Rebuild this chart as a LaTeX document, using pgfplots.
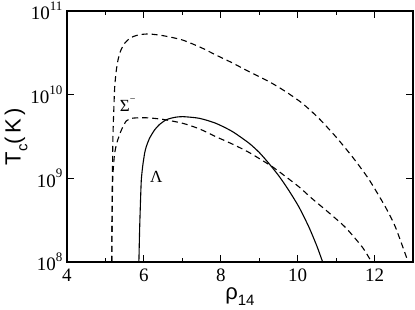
\documentclass[border=0pt]{standalone}
\usepackage{pgfplots}
\pgfplotsset{compat=1.18}
\usepackage{fontspec}
\setmainfont{Liberation Serif}
\newfontfamily\tnr{Liberation Serif}
\newfontfamily\lsans{Liberation Sans}
\begin{document}
\begin{tikzpicture}[x=1pt,y=1pt]
\begin{axis}[
  at={(0,0)}, anchor=south west,
  scale only axis, width=346pt, height=251pt,
  xmin=4, xmax=13, ymin=1e8, ymax=1e11,
  ymode=log, log basis y=10,
  xtick={4,6,8,10,12}, minor x tick num=1,
  ytick={1e8,1e9,1e10,1e11},
  tick align=inside,
  major tick length=7pt, minor tick length=4pt,
  axis line style={line width=1.4pt},
  every tick/.style={line width=0.8pt, black},
  /pgf/number format/assume math mode=true,
  tick label style={font=\tnr\fontsize{19}{19}\selectfont},
  xticklabel={\tnr\pgfmathprintnumber[fixed,precision=0]{\tick}},
  yticklabel={\tnr 10\raisebox{0.5em}{\tnr\fontsize{13}{13}\selectfont\pgfmathprintnumber[fixed,precision=0]{\tick}}},
  xticklabel style={yshift=-3pt},
  yticklabel style={xshift=-1pt},
  xlabel={\lsans\fontsize{22}{22}\selectfont ρ\raisebox{-0.3em}{\fontsize{15}{15}\selectfont 14}},
  ylabel={\lsans\fontsize{22}{22}\selectfont T\raisebox{-0.3em}{\fontsize{15}{15}\selectfont c}(\,K\,)},
  xlabel style={at={(axis description cs:0.5,0)}, anchor=north, yshift=-22pt},
  ylabel style={at={(axis description cs:0,0.5)}, anchor=south, yshift=36pt},
  clip=true,
]
% upper dashed
\addplot[black, line width=1.1pt, dash pattern=on 6pt off 4pt, smooth, tension=0.4] coordinates {
(5.164,1e8) (5.172,3.162e8) (5.180,1e9) (5.195,3.162e9) (5.22,7.08e9)
(5.242,1.259e10) (5.28,1.905e10) (5.327,2.600e10) (5.40,3.388e10)
(5.50,4.111e10) (5.60,4.571e10) (5.715,4.932e10) (5.90,5.224e10)
(6.147,5.309e10) (6.5,5.070e10) (7.0,4.508e10) (7.5,3.631e10)
(7.873,2.979e10) (8.3,2.399e10) (8.735,1.884e10) (9.26,1.429e10)
(9.69,1.086e10) (10.12,7.89e9) (10.55,5.22e9) (10.99,3.15e9)
(11.42,1.816e9) (11.85,9.77e8) (12.28,4.57e8) (12.54,2.63e8)
(12.84,1.109e8) (12.87,1e8)
};
% lower dashed (Sigma-)
\addplot[black, line width=1.1pt, dash pattern=on 6pt off 4pt, smooth, tension=0.4] coordinates {
(5.164,1e8) (5.172,3.16e8) (5.19,1e9) (5.216,1.53e9) (5.24,2.0e9)
(5.30,2.69e9) (5.415,3.78e9) (5.545,4.87e9) (5.70,5.22e9) (5.90,5.30e9)
(6.147,5.27e9) (6.5,5.06e9) (7.01,4.55e9) (7.45,3.89e9) (7.87,3.15e9)
(8.3,2.57e9) (8.735,2.04e9) (9.34,1.38e9) (9.52,1.20e9) (10.03,7.94e8)
(10.37,5.75e8) (10.81,3.89e8) (11.25,2.57e8) (11.68,1.51e8) (11.89,1.06e8)
(11.92,1e8)
};
% solid (Lambda)
\addplot[black, line width=1.1pt, solid, smooth, tension=0.4] coordinates {
(5.87,1e8) (5.889,2.42e8) (5.91,5.01e8) (5.933,9.55e8) (5.97,1.41e9)
(6.02,2.0e9) (6.062,2.39e9) (6.147,3.01e9) (6.277,3.78e9) (6.40,4.37e9)
(6.58,5.01e9) (6.8,5.35e9) (7.01,5.46e9) (7.44,5.22e9) (7.87,4.55e9)
(8.30,3.63e9) (8.735,2.63e9) (9.0,2.04e9) (9.25,1.51e9) (9.51,1.07e9)
(9.75,7.41e8) (10.03,4.57e8) (10.29,2.63e8) (10.5,1.55e8) (10.65,1e8)
};
\node[font=\tnr\fontsize{17}{17}\selectfont] at (axis cs:5.58,7.5e9) {Σ\raisebox{0.5em}{\fontsize{10}{10}\selectfont −}};
\node[font=\tnr\fontsize{17}{17}\selectfont] at (axis cs:6.32,1.05e9) {Λ};
\end{axis}
\pgfresetboundingbox
\path[use as bounding box] (-67,-48) rectangle (348,262);
\end{tikzpicture}
\end{document}
